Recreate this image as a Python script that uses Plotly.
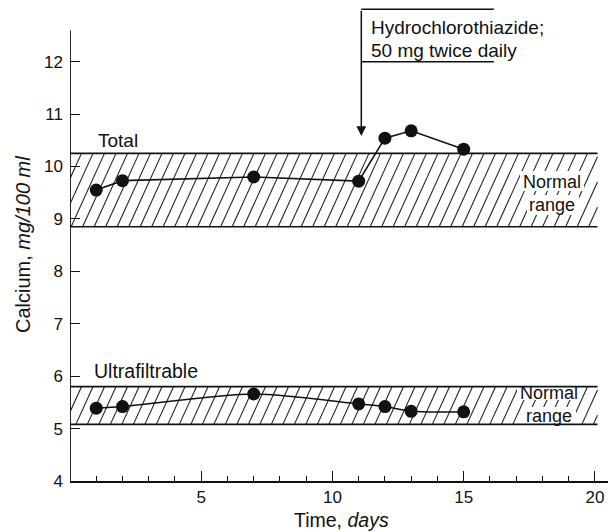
import plotly.graph_objects as go

# ---- data ----
days = [1, 2, 7, 11, 12, 13, 15]
total_calcium = [9.55, 9.73, 9.80, 9.72, 10.54, 10.68, 10.33]
ultra_calcium = [5.39, 5.42, 5.66, 5.47, 5.42, 5.33, 5.32]
total_normal = [8.85, 10.25]
ultra_normal = [5.08, 5.80]
x_tick_vals = [5, 10, 15, 20]
y_tick_vals = [4, 5, 6, 7, 8, 9, 10, 11, 12]
drug_day = 11.1
drug_label = ["Hydrochlorothiazide;", "50 mg twice daily"]

# ---- layout geometry ----
W, H = 608, 532
ML, MR, MT, MB = 70, 0, 4, 51
XR = [0, 20.5]
YR = [4, 13.1]
PXX = (W - ML - MR) / (XR[1] - XR[0])
PXY = (H - MT - MB) / (YR[1] - YR[0])
BAND_X = [0, 20.1]
FONT = "Liberation Sans, Arial, sans-serif"
INK = "#111"


def px2x(px):
    return XR[0] + (px - ML) / PXX


def px2y(py):
    return YR[0] + (H - MB - py) / PXY


def hatch(lo, hi, x0, x1, spacing_px=11.5, ratio=2.2):
    """Diagonal '/' hatch lines clipped to a rectangle (data coords)."""
    h_px = (hi - lo) * PXY
    run = h_px / ratio / PXX
    sp = spacing_px / PXX
    xs, ys = [], []
    start = x0 - run
    k = 0
    while True:
        xb = start + k * sp
        k += 1
        if xb > x1:
            break
        t0, t1 = 0.0, 1.0
        if xb < x0:
            t0 = max(t0, (x0 - xb) / run)
        if xb + run > x1:
            t1 = min(t1, (x1 - xb) / run)
        if t0 >= t1:
            continue
        xs += [xb + t0 * run, xb + t1 * run, None]
        ys += [lo + t0 * (hi - lo), lo + t1 * (hi - lo), None]
    return xs, ys


fig = go.Figure()

for lo, hi in (total_normal, ultra_normal):
    hx, hy = hatch(lo, hi, BAND_X[0], BAND_X[1])
    fig.add_trace(go.Scatter(x=hx, y=hy, mode="lines",
                             line=dict(color="#222", width=1.1),
                             hoverinfo="skip", showlegend=False))
    for yv in (lo, hi):
        fig.add_shape(type="line", x0=BAND_X[0], x1=BAND_X[1], y0=yv, y1=yv,
                      line=dict(color=INK, width=1.6), layer="above")

# white patches over the hatching behind the "Normal range" words
patches = [
    # (centre px x, centre px y, half width px, half height px)
    (552, 181, 32, 10),
    (553, 205, 26, 10),
    (549, 393, 32, 7),
    (550, 416, 26, 9),
]
for cx, cy, hw, hh in patches:
    x0, x1 = px2x(cx - hw), px2x(cx + hw)
    y0, y1 = px2y(cy + hh), px2y(cy - hh)
    fig.add_trace(go.Scatter(x=[x0, x1, x1, x0, x0], y=[y0, y0, y1, y1, y0],
                             mode="lines", fill="toself", fillcolor="white",
                             line=dict(width=0, color="white"),
                             hoverinfo="skip", showlegend=False))
for cx, cy in ((552, 193), (549, 404)):
    fig.add_annotation(x=px2x(cx), y=px2y(cy), text="Normal<br>range",
                       showarrow=False, align="center",
                       font=dict(family=FONT, size=18, color=INK))

fig.add_trace(go.Scatter(x=days, y=total_calcium, mode="lines+markers",
                         line=dict(color=INK, width=1.6),
                         marker=dict(size=13, color=INK),
                         showlegend=False))
fig.add_trace(go.Scatter(x=days, y=ultra_calcium, mode="lines+markers",
                         line=dict(color=INK, width=1.6, shape="spline",
                                   smoothing=0.8),
                         marker=dict(size=13, color=INK),
                         showlegend=False))

# y-axis line
fig.add_shape(type="line", x0=0, x1=0, y0=YR[0], y1=12.6,
              line=dict(color=INK, width=1.8), layer="above")

# series labels
fig.add_annotation(x=px2x(96), y=px2y(140), text="Total", showarrow=False,
                   xanchor="left", font=dict(family=FONT, size=19, color=INK))
fig.add_annotation(x=px2x(92), y=px2y(371), text="Ultrafiltrable",
                   showarrow=False, xanchor="left",
                   font=dict(family=FONT, size=19.5, color=INK))

# drug start: box lines, arrow, label
box_right = 16.15
fig.add_shape(type="line", x0=drug_day, x1=box_right, y0=13.0, y1=13.0,
              line=dict(color=INK, width=1.5))
fig.add_shape(type="line", x0=drug_day, x1=box_right, y0=12.0, y1=12.0,
              line=dict(color=INK, width=1.5))
fig.add_annotation(x=drug_day, y=10.58, ax=drug_day, ay=13.0,
                   xref="x", yref="y", axref="x", ayref="y",
                   text="", showarrow=True, arrowhead=2, arrowsize=1.3,
                   arrowwidth=1.5, arrowcolor=INK)
fig.add_annotation(x=px2x(369), y=px2y(27), text=drug_label[0],
                   showarrow=False, xanchor="left",
                   font=dict(family=FONT, size=19, color=INK))
fig.add_annotation(x=px2x(369), y=px2y(50), text=drug_label[1],
                   showarrow=False, xanchor="left",
                   font=dict(family=FONT, size=19, color=INK))

# axis titles
fig.add_annotation(xref="paper", yref="paper", x=(341 - ML) / (W - ML - MR),
                   y=(H - MB - 519.5) / (H - MT - MB), text="Time, <i>days</i>",
                   xanchor="center", yanchor="middle",
                   showarrow=False, font=dict(family=FONT, size=19.5, color=INK))
fig.add_annotation(xref="paper", yref="paper", x=(23 - ML) / (W - ML - MR),
                   y=(H - MB - 245) / (H - MT - MB),
                   text="Calcium, <i>mg/100 ml</i>",
                   xanchor="center", yanchor="middle",
                   textangle=-90, showarrow=False,
                   font=dict(family=FONT, size=20, color=INK))

fig.update_xaxes(range=XR, tickvals=x_tick_vals, ticks="inside", ticklen=10,
                 tickwidth=1.3, tickcolor=INK, showline=True,
                 linecolor=INK, linewidth=1.8, showgrid=False,
                 zeroline=False,
                 minor=dict(ticks="inside", dtick=1, tick0=0, ticklen=5,
                            tickwidth=1.2, tickcolor=INK, showgrid=False),
                 tickfont=dict(family=FONT, size=17, color=INK))
fig.update_yaxes(range=YR, tickvals=y_tick_vals, ticks="inside", ticklen=10,
                 tickwidth=1.3, tickcolor=INK, showline=False,
                 showgrid=False, zeroline=False, ticklabelstandoff=6,
                 tickfont=dict(family=FONT, size=17, color=INK))

fig.update_layout(width=W, height=H, margin=dict(l=ML, r=MR, t=MT, b=MB),
                  plot_bgcolor="white", paper_bgcolor="white",
                  showlegend=False)

fig.write_html("out.html")
